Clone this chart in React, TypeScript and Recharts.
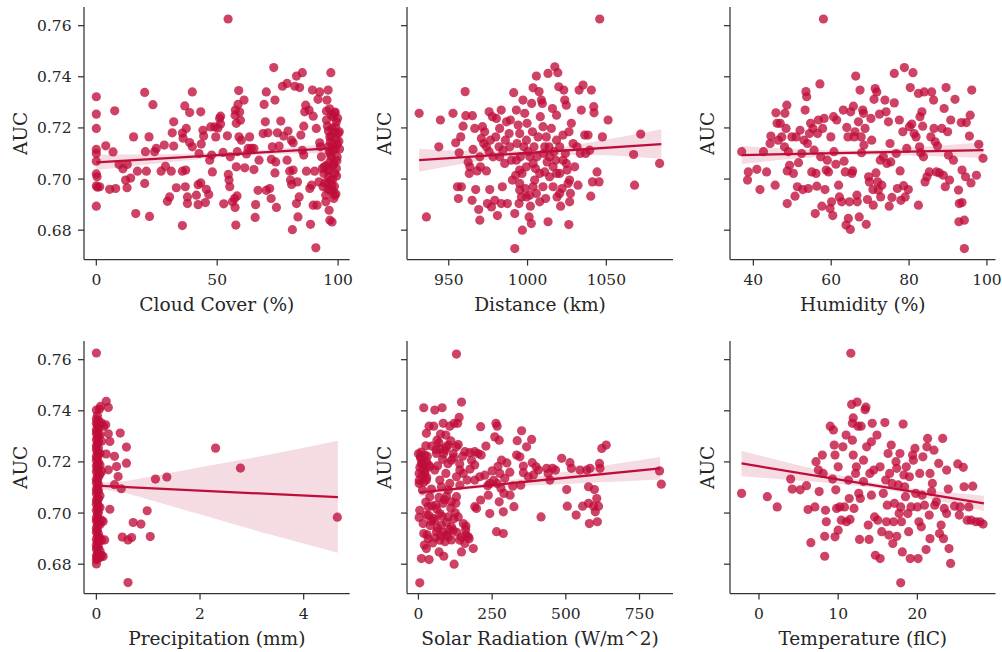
import { Area, ComposedChart, Line, Scatter, XAxis, YAxis } from "recharts";

const FONT = "DejaVu Serif, Liberation Serif, serif";
const RED = "#bf0d3a";
const INK = "#262626";
const FRAME = "#333333";

const AUC_TICKS = [0.68, 0.7, 0.72, 0.74, 0.76];
const AUC_DOMAIN: [number, number] = [0.6685, 0.7673];

type Pair = [number, number];
// [x, ci low, fitted value (endpoints only), ci high]
type BandRow = [number, number, number | null, number];

const cloudCover: Pair[] = [
  [0, 0.7322], [0, 0.7254], [0, 0.7198], [0, 0.7116], [0, 0.71], [0, 0.707], [0, 0.702], [0.3, 0.7009], [0, 0.6973], [0.5, 0.6968],
  [0, 0.6894], [1.4, 0.697], [3.9, 0.713], [6.9, 0.7106], [7.6, 0.7267], [5.5, 0.696], [8, 0.6963], [9.4, 0.7057], [11, 0.704], [12.8, 0.7057],
  [12.1, 0.6996], [12.7, 0.6966], [14.2, 0.7004], [15.4, 0.7165], [16.3, 0.6865], [17, 0.7031], [20, 0.7339], [20.3, 0.7107], [20.7, 0.7031], [20, 0.6983],
  [21.8, 0.7165], [22, 0.6854], [23.4, 0.7291], [24.1, 0.7107], [24.8, 0.712], [26.8, 0.7031], [28.1, 0.7133], [28.6, 0.705], [29.4, 0.6913], [30.3, 0.693],
  [31, 0.7031], [31.4, 0.7181], [32, 0.7224], [32, 0.7129], [33.1, 0.6966], [35.6, 0.6818], [35.6, 0.7031], [36.6, 0.7286], [35.6, 0.718], [37, 0.7035],
  [35.9, 0.716], [37.2, 0.7198], [36.8, 0.697], [37.7, 0.693], [37.7, 0.6904], [38.6, 0.726], [38.6, 0.7143], [39.7, 0.7126], [39.7, 0.7341], [41.4, 0.6937],
  [42.1, 0.6978], [42.1, 0.69], [42.5, 0.71], [43.2, 0.7263], [43.2, 0.6985], [43.4, 0.7137], [44.1, 0.7191], [44.4, 0.7168], [45.1, 0.6908], [45.5, 0.696],
  [46.5, 0.694], [46.9, 0.7074], [47.3, 0.7204], [47.7, 0.7094], [48, 0.7028], [49, 0.7204], [49.4, 0.7165], [50.3, 0.72], [51, 0.7237], [51.4, 0.7215],
  [51.4, 0.7246], [52.7, 0.6903], [52.4, 0.7104], [54.2, 0.7169], [54.5, 0.7626], [54.6, 0.7018], [54.9, 0.6996], [55.2, 0.697], [55.4, 0.7087], [56.3, 0.6911],
  [57.2, 0.6924], [57.4, 0.6889], [57.7, 0.682], [57.4, 0.725], [57.5, 0.727], [57.9, 0.7218], [57.9, 0.7048], [58.2, 0.6934], [58.3, 0.7107], [58.6, 0.7292],
  [58.9, 0.7346], [59, 0.7165], [59.3, 0.7262], [59.6, 0.723], [60, 0.7152], [61.1, 0.7309], [61.4, 0.7044], [62.1, 0.7098], [62.8, 0.712], [63.4, 0.7165],
  [64.1, 0.712], [65.2, 0.712], [65.2, 0.7037], [65.7, 0.685], [65.9, 0.69], [66.9, 0.6956], [67.3, 0.7074], [69, 0.7178], [69.4, 0.7292], [69.9, 0.7224],
  [70.3, 0.7341], [70.3, 0.6956], [71, 0.7181], [71.7, 0.6963], [72.3, 0.6924], [72.4, 0.7077], [72.8, 0.7126], [73.4, 0.7436], [73.9, 0.7309], [74.2, 0.7067],
  [74.5, 0.6889], [73.9, 0.7024], [74.9, 0.7181], [75.6, 0.7129], [76.3, 0.7227], [77, 0.7363], [77.5, 0.7168], [78.9, 0.7374], [78.9, 0.7074], [79.3, 0.7188],
  [80, 0.7031], [80.3, 0.6996], [80.7, 0.7152], [80.8, 0.6979], [81.1, 0.6802], [81.4, 0.7142], [81.4, 0.7035], [82.1, 0.7363], [82.8, 0.7403], [82.8, 0.6904],
  [83.2, 0.6989], [83.4, 0.6852], [83.9, 0.693], [84.1, 0.7358], [84.6, 0.7172], [85.2, 0.7416], [85.2, 0.7112], [85.8, 0.7207], [85.8, 0.7094], [86.2, 0.7263],
  [86.6, 0.7289], [86.9, 0.7031], [88, 0.727], [88.3, 0.6963], [88.6, 0.6823], [89, 0.6976], [89.4, 0.7348], [89.7, 0.7246], [89.7, 0.6898], [90.3, 0.7031],
  [90.8, 0.6731], [91, 0.7198], [91.3, 0.6898], [91.7, 0.7312], [92.1, 0.6989], [92.4, 0.7341], [92.4, 0.7142], [92.7, 0.7126], [93.1, 0.7087], [93.5, 0.7041],
  [94.1, 0.7022], [94.5, 0.6985], [94.9, 0.6911], [95.2, 0.7266], [95.4, 0.7309], [95.9, 0.7348], [95.9, 0.696], [96.3, 0.6878], [96.6, 0.6839], [97, 0.7416],
  [97.2, 0.725], [97.2, 0.7168], [97.5, 0.6832], [97.9, 0.7112], [98.3, 0.7061], [98.6, 0.7022], [99, 0.7204], [99.3, 0.7224], [99.6, 0.7135], [100, 0.7178],
  [95.2, 0.7231], [95.6, 0.7207], [96, 0.7188], [96.6, 0.7165], [96.8, 0.7146], [95.9, 0.7126], [96.3, 0.7107], [97.1, 0.7087], [96.6, 0.7067], [95.2, 0.7054],
  [95.6, 0.7035], [96.1, 0.7009], [97, 0.6996], [97.4, 0.6976], [97.9, 0.6954], [98.6, 0.6937], [98.2, 0.6924], [94.9, 0.6937], [93.8, 0.697], [94.3, 0.7048],
  [97.9, 0.7244], [98.6, 0.7257], [99.3, 0.7041], [99.6, 0.7087],
  [96.5, 0.7275], [98.8, 0.7262], [99.8, 0.7238], [97.5, 0.7199], [98.3, 0.7183], [99.2, 0.7155], [100.3, 0.7148], [97.6, 0.7132], [98.9, 0.7118], [96.9, 0.7098],
  [99.5, 0.7072], [98, 0.7055], [96.2, 0.7033], [99.4, 0.7012], [97.8, 0.6999], [95.8, 0.6985], [98.5, 0.6972], [96.8, 0.6955], [99.1, 0.6942], [100.5, 0.7185],
  [100.6, 0.7118],
];

const distance: Pair[] = [
  [931.2, 0.7257], [935.8, 0.6852], [943.7, 0.7126], [944.7, 0.7231], [952.7, 0.7257], [954.4, 0.7142], [955.5, 0.697], [956.1, 0.6924], [956.6, 0.7103], [957.6, 0.7165],
  [959.1, 0.7207], [960.4, 0.7342], [960.8, 0.7248], [958, 0.697], [962.3, 0.7067], [963, 0.7022], [963.4, 0.7048], [964.8, 0.6917], [965, 0.7248], [965.4, 0.7116],
  [966.5, 0.7198], [967.1, 0.6959], [968, 0.7032], [969, 0.6881], [969.7, 0.6839], [970.1, 0.7048], [970.7, 0.7159], [971.4, 0.7205], [972.2, 0.7139], [972.8, 0.7185],
  [973.9, 0.7032], [974.5, 0.6904], [975.6, 0.7263], [975.6, 0.7107], [976, 0.6959], [976.4, 0.7152], [977.1, 0.6891], [977.7, 0.7244], [978.1, 0.7087], [979.2, 0.6917],
  [979.8, 0.7165], [980.2, 0.7237], [980.9, 0.6857], [981.9, 0.7126], [982.3, 0.7198], [983.3, 0.727], [983.3, 0.6904], [984, 0.697], [985.5, 0.7061], [985.9, 0.7152],
  [986.6, 0.7224], [987.2, 0.6904], [988.3, 0.7178], [989.1, 0.7231], [989.7, 0.7074], [990.4, 0.6996], [991.2, 0.7338], [991.9, 0.6865], [991.9, 0.6728], [992.5, 0.7015],
  [992.9, 0.727], [993.3, 0.7139], [994, 0.7211], [994.6, 0.6904], [995, 0.6983], [995.5, 0.7087], [996.1, 0.693], [996.5, 0.7022], [996.7, 0.68], [997.1, 0.7309],
  [997.6, 0.7126], [998.2, 0.7257], [998.6, 0.6963], [999.3, 0.7048], [999.7, 0.7218], [1000.3, 0.7107], [1001, 0.6852], [1001.4, 0.6937], [1001.8, 0.6894], [1002.4, 0.6826],
  [1002.6, 0.7296], [1003.1, 0.7185], [1003.5, 0.7357], [1004.1, 0.7126], [1004.5, 0.6996], [1005, 0.7041], [1005.6, 0.7403], [1006, 0.7087], [1006.7, 0.7165], [1007.3, 0.7342],
  [1007.7, 0.6911], [1008.1, 0.7244], [1008.8, 0.7309], [1009.4, 0.7296], [1009.8, 0.7205], [1010.3, 0.71], [1010.9, 0.7028], [1011.5, 0.6924], [1012.4, 0.7067], [1013, 0.7413],
  [1013, 0.6833], [1013.6, 0.7126], [1014, 0.7009], [1015.1, 0.7198], [1015.8, 0.7276], [1016.2, 0.697], [1016.8, 0.7107], [1017.3, 0.7439], [1017.9, 0.7074], [1018.4, 0.725],
  [1018.7, 0.693], [1019.2, 0.7416], [1019.8, 0.7361], [1020.4, 0.7022], [1021, 0.6894], [1021.9, 0.6963], [1022.5, 0.7172], [1023, 0.7348], [1023.6, 0.7309], [1024, 0.71],
  [1024.6, 0.7289], [1025.1, 0.7035], [1025.7, 0.6983], [1026.2, 0.6822], [1026.3, 0.7185], [1026.7, 0.6911], [1027.2, 0.6944], [1027.8, 0.7218], [1028.9, 0.7139], [1029.9, 0.7048],
  [1031.4, 0.7126], [1032, 0.6976], [1032.7, 0.7348], [1033.5, 0.71], [1034.1, 0.727], [1035.2, 0.7368], [1036.3, 0.7172], [1036.9, 0.71], [1038.4, 0.7172], [1039.4, 0.7113],
  [1040.1, 0.6933], [1040.5, 0.7348], [1041.2, 0.6989], [1042, 0.7283], [1042.2, 0.7259], [1044.1, 0.7028], [1045.4, 0.6989], [1045.8, 0.7626], [1047.5, 0.7165], [1051.1, 0.7231],
  [1067.3, 0.7096], [1067.9, 0.6976], [1071.8, 0.7176], [1083.8, 0.7061],
  [992.9, 0.7074], [995, 0.7035], [999.3, 0.7152], [1001.4, 0.7087], [1003.5, 0.7061], [1007.7, 0.7022], [1010.9, 0.7126], [1014, 0.7087], [1016.2, 0.7048], [1018.4, 0.7152],
  [1020.4, 0.7126], [1022.5, 0.7074], [995, 0.7178], [988.7, 0.7126], [984.5, 0.7113], [982.3, 0.7087], [973.9, 0.7126], [969.7, 0.7087], [1003.5, 0.697], [999.3, 0.693],
  [995, 0.6957], [1005.6, 0.6944], [1011.9, 0.7165], [1018.4, 0.7022], [1024.6, 0.7061], [1026.7, 0.6996], [1020.4, 0.6944], [1009.8, 0.697],
];

const humidity: Pair[] = [
  [37, 0.7107], [38.5, 0.6996], [38.7, 0.7028], [40.9, 0.7038], [41.7, 0.6959], [42.6, 0.7107], [43.4, 0.7028], [44.3, 0.7139], [44.5, 0.7168], [45.6, 0.6976],
  [45.8, 0.7259], [46.1, 0.7218], [46.4, 0.7152], [46.9, 0.7218], [47.3, 0.7165], [48, 0.7126], [48.1, 0.7257], [48.4, 0.7198], [48.6, 0.7289], [48.7, 0.6904],
  [48.7, 0.7032], [49, 0.7107], [49.3, 0.7054], [49.9, 0.7165], [50.3, 0.7022], [50.7, 0.6933], [51, 0.7165], [51.3, 0.697], [51.6, 0.7064], [52, 0.7191],
  [52.4, 0.71], [52.7, 0.6959], [53, 0.7152], [53.3, 0.727], [53.5, 0.7342], [53.7, 0.7322], [53.9, 0.7139], [54.1, 0.6963], [54.4, 0.7178], [54.7, 0.7218],
  [55, 0.7028], [55.3, 0.7198], [55.6, 0.7113], [55.9, 0.6865], [56.1, 0.7022], [56.3, 0.6972], [56.5, 0.7178], [56.7, 0.7231], [57.1, 0.7372], [57.3, 0.7087],
  [57.6, 0.6894], [57.8, 0.7198], [58, 0.7626], [58.2, 0.7237], [58.4, 0.6959], [58.7, 0.7035], [59, 0.7074], [59.3, 0.7028], [59.7, 0.6885], [59.9, 0.7165],
  [60.1, 0.6911], [60.4, 0.6857], [60.6, 0.7244], [60.7, 0.7107], [61.2, 0.7058], [61.4, 0.7231], [61.9, 0.6976], [62.1, 0.693], [62.7, 0.6911], [63.1, 0.727],
  [63.3, 0.707], [63.6, 0.7028], [63.8, 0.682], [64, 0.7202], [64.3, 0.7165], [64.4, 0.6846], [64.7, 0.6911], [64.9, 0.6803], [65, 0.7263], [65.3, 0.7022],
  [65.5, 0.7032], [65.7, 0.7285], [65.9, 0.7165], [66.1, 0.7185], [66.3, 0.7403], [66.6, 0.6937], [66.7, 0.6911], [67, 0.7224], [67.2, 0.6852], [67.4, 0.7348],
  [67.7, 0.7165], [67.8, 0.7103], [68.1, 0.727], [68.3, 0.7257], [68.4, 0.7133], [68.7, 0.7198], [69, 0.6823], [69.3, 0.692], [69.6, 0.7009], [69.8, 0.6989],
  [70.2, 0.7237], [70.4, 0.7152], [70.7, 0.6959], [70.8, 0.6898], [71, 0.7312], [71.3, 0.7354], [71.5, 0.7024], [71.7, 0.7341], [71.9, 0.6989], [72.1, 0.6957],
  [72.4, 0.7254], [72.6, 0.7074], [72.7, 0.693], [73, 0.6976], [73.4, 0.7087], [73.8, 0.7309], [74.1, 0.7263], [74.3, 0.7061], [74.7, 0.7224], [74.9, 0.6894],
  [75.1, 0.7139], [75.3, 0.7067], [75.6, 0.6928], [76.2, 0.7413], [76.2, 0.7298], [76.7, 0.71], [77, 0.6963], [77.5, 0.7231], [77.7, 0.7032], [77.9, 0.6917],
  [78.4, 0.7185], [78.6, 0.6974], [78.8, 0.7436], [79, 0.693], [79.4, 0.712], [79.8, 0.6959], [80.1, 0.7205], [80.3, 0.7358], [80.7, 0.7215], [81, 0.7416],
  [81.3, 0.7178], [81.8, 0.7165], [82.4, 0.7335], [82.4, 0.6898], [82.7, 0.7126], [82.8, 0.7244], [83, 0.7103], [83.3, 0.7263], [83.5, 0.7207], [83.7, 0.7087],
  [83.9, 0.7341], [84.1, 0.6989], [84.6, 0.7009], [85.2, 0.7028], [85.6, 0.7165], [85.8, 0.7341], [86.3, 0.7309], [86.4, 0.7198], [86.7, 0.7146], [87, 0.7028],
  [87.3, 0.7129], [87.8, 0.7024], [88.4, 0.7198], [88.8, 0.7015], [89, 0.7276], [89.3, 0.697], [89.5, 0.7358], [89.9, 0.7185], [90.1, 0.7094], [90.4, 0.6996],
  [90.7, 0.7231], [91.4, 0.7074], [91.8, 0.7312], [92.7, 0.6957], [92.9, 0.6904], [92.8, 0.6833], [93.4, 0.7221], [93.6, 0.7035], [93.6, 0.6908], [94.2, 0.6839],
  [94.2, 0.6728], [94.5, 0.7009], [94.7, 0.7221], [95.5, 0.7168], [95.7, 0.725], [95.9, 0.6985], [96.1, 0.7348], [97.3, 0.7015], [97.9, 0.7136], [99, 0.7081],
];

const precipitation: Pair[] = [
  [0, 0.7403], [0, 0.7368], [0, 0.7351], [0, 0.7326], [0, 0.7311], [0, 0.7287], [0, 0.7262], [0, 0.7249], [0, 0.7221], [0, 0.7207],
  [0, 0.7184], [0, 0.7163], [0, 0.7131], [0, 0.7119], [0, 0.7092], [0, 0.7077], [0, 0.7049], [0, 0.7034], [0, 0.7011], [0, 0.6982],
  [0, 0.6969], [0, 0.6941], [0, 0.6925], [0, 0.6897], [0, 0.6874], [0, 0.6859], [0, 0.6832], [0, 0.6817], [0, 0.6801],
  [0.02, 0.7382], [0.02, 0.7343], [0.02, 0.7318], [0.02, 0.7296], [0.02, 0.7271], [0.02, 0.7238], [0.02, 0.7215], [0.02, 0.7192], [0.02, 0.7171], [0.02, 0.7148],
  [0.02, 0.7126], [0.02, 0.7104], [0.02, 0.7085], [0.02, 0.7061], [0.02, 0.7042], [0.02, 0.7019], [0.02, 0.6996], [0.02, 0.6974], [0.02, 0.6952], [0.02, 0.6933],
  [0.02, 0.6909], [0.02, 0.6886], [0.02, 0.6864], [0.02, 0.6843], [0.02, 0.6822],
  [0.04, 0.7362], [0.04, 0.7335], [0.04, 0.7302], [0.04, 0.7278], [0.04, 0.7254], [0.04, 0.7229], [0.04, 0.7198], [0.04, 0.7176], [0.04, 0.7141], [0.04, 0.7111],
  [0.04, 0.7087], [0.04, 0.7056], [0.04, 0.7026], [0.04, 0.7003], [0.04, 0.6978], [0.04, 0.6958], [0.04, 0.6917], [0.04, 0.6891], [0.04, 0.6868], [0.04, 0.6838],
  [0.07, 0.7345], [0.07, 0.7306], [0.07, 0.7233], [0.07, 0.7188], [0.07, 0.7152], [0.07, 0.7068], [0.07, 0.7022], [0.07, 0.6955], [0.07, 0.6902], [0.07, 0.6852],
  [0.07, 0.6826], [0.1, 0.7352], [0.1, 0.7281], [0.1, 0.7163], [0.1, 0.6972], [0.1, 0.6893], [0.1, 0.6836],
  [0, 0.7626], [0.19, 0.7437], [0.23, 0.7413], [0.06, 0.7407], [0.08, 0.7417], [0.18, 0.7345], [0.14, 0.7339], [0.23, 0.731], [0.26, 0.728], [0.19, 0.7231],
  [0.35, 0.7222], [0.46, 0.7313], [0.58, 0.7258], [0.39, 0.7182], [0.58, 0.7195], [0.23, 0.7169], [0.42, 0.7143], [0.35, 0.7111], [0.48, 0.7095], [0.26, 0.7015],
  [0.71, 0.6963], [0.86, 0.6957], [0.98, 0.7009], [0.5, 0.6906], [0.68, 0.6904], [0.61, 0.6895], [1.04, 0.6908], [0.61, 0.6728], [1.14, 0.7133], [1.36, 0.7141],
  [2.3, 0.7254], [2.78, 0.7176], [4.65, 0.6984], [0.13, 0.6967], [0.16, 0.6895], [0.13, 0.683],
];

const solarRadiation: Pair[] = [
  [129, 0.7622], [4.5, 0.6727], [18, 0.7412], [55.5, 0.7403], [80.4, 0.7412], [146, 0.7434], [138, 0.7374], [121, 0.7351], [133, 0.7351], [84, 0.7351],
  [36, 0.734], [52, 0.734], [106.5, 0.734], [27, 0.7312], [75, 0.7309], [93, 0.7305], [63, 0.7285], [25, 0.7263], [101, 0.7266], [72.5, 0.7253],
  [129, 0.7259], [6.8, 0.722], [21.5, 0.7227], [61, 0.7233], [89.5, 0.7246], [118, 0.7233], [157.5, 0.724], [10, 0.7194], [27, 0.7201], [81.6, 0.721],
  [112, 0.7207], [16, 0.7175], [38.5, 0.7181], [2.3, 0.7155], [21.5, 0.7155], [55.5, 0.7168], [93, 0.7155], [140.5, 0.7168], [2.3, 0.7116], [27, 0.7129],
  [72.5, 0.7129], [106.5, 0.7116], [129, 0.7142], [152, 0.7155], [13.6, 0.709], [44, 0.7094], [78, 0.7103], [101, 0.709], [140.5, 0.7109], [38.5, 0.7064],
  [70, 0.7061], [95, 0.7066], [129, 0.7064], [4.5, 0.7011], [33, 0.7025], [59, 0.7031], [84, 0.7038], [112, 0.7044], [127, 0.7038], [2.3, 0.6983],
  [27, 0.6992], [50, 0.6979], [72.5, 0.6998], [101, 0.6985], [135, 0.6985], [16, 0.6959], [44, 0.6968], [78, 0.6953], [112, 0.6946], [152, 0.6959],
  [18, 0.692], [61, 0.6927], [95, 0.6914], [118, 0.6933], [161, 0.6914], [33, 0.69], [72.5, 0.6894], [101, 0.6907], [140.5, 0.6894], [172, 0.69],
  [27, 0.6861], [70, 0.6848], [186, 0.6861], [10, 0.6822], [36, 0.6818], [86, 0.6831], [121, 0.68], [146, 0.6848], [157.5, 0.6881], [169, 0.6907],
  [161, 0.6949], [197, 0.7018], [191, 0.7025], [211, 0.7051], [202, 0.7233], [213, 0.7227], [191, 0.724], [229, 0.7262], [211, 0.7338], [174, 0.7236],
  [180, 0.7207], [191, 0.7188], [165, 0.7129], [191, 0.7129], [208, 0.7142], [242, 0.6998], [242, 0.7116], [237, 0.707], [259, 0.7298], [263, 0.7351],
  [267, 0.734], [274, 0.7285], [265, 0.6927], [288, 0.692], [267, 0.7116], [274, 0.7044], [288, 0.7005], [282, 0.7207], [276, 0.7155], [290, 0.7077],
  [293, 0.7136], [310, 0.716], [311, 0.707], [324, 0.7025], [333, 0.7227], [335, 0.7283], [344, 0.722], [347, 0.7109], [350, 0.7322], [356, 0.7184],
  [356, 0.7158], [367, 0.7259], [373, 0.7142], [384, 0.7288], [386, 0.7197], [390, 0.7149], [399, 0.7181], [407, 0.7168], [416, 0.6985], [435, 0.7175],
  [440, 0.7155], [446, 0.7129], [455, 0.7175], [465, 0.7168], [486, 0.7214], [503, 0.7092], [505, 0.7027], [514, 0.7197], [519, 0.7175], [535, 0.6992],
  [548, 0.7168], [557, 0.7027], [571, 0.7168], [577, 0.7103], [577, 0.7038], [580, 0.6959], [582, 0.7175], [594, 0.7027], [597, 0.7092], [600, 0.7005],
  [605, 0.7057], [607, 0.6966], [611, 0.7027], [614, 0.7194], [616, 0.7175], [622, 0.7253], [637, 0.7266], [818, 0.7165], [824, 0.7113],
  [0, 0.7232], [8, 0.7213], [15, 0.7195], [5, 0.7178], [22, 0.7165], [12, 0.7148], [28, 0.7139], [3, 0.7128], [18, 0.7121], [9, 0.7238],
  [35, 0.7188], [30, 0.7222], [25, 0.7043], [45, 0.7028], [62, 0.7016], [88, 0.7052], [110, 0.7019], [125, 0.7001], [35, 0.6991], [55, 0.6972],
  [80, 0.6988], [95, 0.6964], [120, 0.6978], [40, 0.6951], [65, 0.6942], [85, 0.6925], [105, 0.6935], [30, 0.6915], [58, 0.6903], [75, 0.6912],
  [130, 0.6925], [48, 0.6883], [90, 0.6888], [112, 0.6895], [20, 0.6875], [145, 0.6905], [160, 0.6935], [45, 0.7262], [70, 0.7275], [95, 0.7258],
  [110, 0.7282], [135, 0.7268], [60, 0.7248], [85, 0.7232], [150, 0.7222], [120, 0.7216], [100, 0.7193], [65, 0.7185], [140, 0.7192], [175, 0.7172],
  [225, 0.7148], [250, 0.7165], [270, 0.7183], [300, 0.7196], [235, 0.7107], [255, 0.7128], [280, 0.7097], [320, 0.7105],
];

const temperature: Pair[] = [
  [11.6, 0.7625], [17.9, 0.6727], [-2.2, 0.7077], [1.05, 0.7064], [2.3, 0.7024], [4, 0.7133], [4.2, 0.7094], [5.2, 0.7091], [6, 0.7107], [6.2, 0.7014],
  [6.55, 0.6884], [7.06, 0.7024], [7.2, 0.7201], [7.5, 0.7168], [7.6, 0.7084], [8, 0.7227], [8.1, 0.7155], [8.3, 0.6831], [8.3, 0.6909], [8.4, 0.7011],
  [8.5, 0.6966], [9, 0.734], [9.3, 0.7133], [9.4, 0.7325], [9.5, 0.7266], [9.6, 0.7227], [9.6, 0.6907], [9.7, 0.7091], [9.8, 0.7018], [10, 0.7181],
  [10, 0.6933], [10.2, 0.7024], [10.4, 0.6972], [10.6, 0.7259], [10.8, 0.7024], [11, 0.7305], [11.05, 0.6966], [11.3, 0.7129], [11.4, 0.7057], [11.5, 0.6975],
  [11.7, 0.7425], [11.8, 0.7351], [11.8, 0.7285], [11.9, 0.7227], [11.9, 0.7372], [12, 0.7018], [12.2, 0.7155], [12.3, 0.7181], [12.4, 0.7434], [12.5, 0.734],
  [12.6, 0.7077], [12.7, 0.6897], [12.8, 0.7057], [12.9, 0.734], [13.2, 0.7207], [13.2, 0.7123], [13.4, 0.7404], [13.5, 0.7414], [13.6, 0.7259], [13.8, 0.6953],
  [13.9, 0.6897], [14, 0.7155], [14.2, 0.707], [14.2, 0.7279], [14.3, 0.7351], [14.5, 0.7168], [14.6, 0.6985], [14.7, 0.6835], [14.9, 0.7305], [15, 0.6972],
  [15.3, 0.6822], [15.3, 0.7181], [15.5, 0.6927], [15.7, 0.7077], [15.9, 0.7354], [16, 0.7129], [16.1, 0.6966], [16.2, 0.7031], [16.3, 0.7233], [16.4, 0.6914],
  [16.5, 0.7155], [16.7, 0.7266], [16.8, 0.7116], [16.9, 0.6881], [17, 0.6966], [17.1, 0.7038], [17.3, 0.7201], [17.4, 0.6909], [17.4, 0.7175], [17.6, 0.711],
  [17.7, 0.6998], [17.8, 0.7233], [17.9, 0.7024], [18, 0.6966], [18.1, 0.6848], [18.2, 0.7348], [18.3, 0.7149], [18.4, 0.7103], [18.5, 0.7064], [18.6, 0.7181],
  [18.8, 0.6998], [18.9, 0.6927], [19, 0.7142], [19.1, 0.6822], [19.2, 0.7024], [19.4, 0.7227], [19.5, 0.7207], [19.7, 0.7253], [19.8, 0.7077], [20, 0.7024],
  [20.1, 0.6822], [20.2, 0.6966], [20.3, 0.7155], [20.5, 0.6946], [20.6, 0.707], [20.7, 0.722], [20.9, 0.7031], [21.1, 0.6857], [21.2, 0.7259], [21.3, 0.7292],
  [21.5, 0.6992], [21.6, 0.69], [21.6, 0.7155], [21.8, 0.7084], [21.9, 0.7116], [22.1, 0.7246], [22.2, 0.7031], [22.4, 0.7044], [22.7, 0.7194], [22.8, 0.692],
  [23, 0.6953], [23.2, 0.7292], [23.3, 0.69], [23.4, 0.7018], [23.7, 0.6998], [23.7, 0.7168], [23.9, 0.7094], [24, 0.6861], [24.2, 0.6803], [24.7, 0.7027],
  [25.1, 0.7192], [25.3, 0.6992], [25.4, 0.7024], [25.8, 0.7179], [25.9, 0.7103], [26.3, 0.6972], [26.5, 0.7024], [26.8, 0.6972], [27, 0.7105], [27.4, 0.6966],
  [27.9, 0.6966], [28.3, 0.6957],
];

const cloudCoverBand: BandRow[] = [
  [0, 0.7035, 0.7065, 0.7095], [25, 0.7061, null, 0.7097], [60, 0.7091, null, 0.7107], [80, 0.7099, null, 0.7123], [100, 0.7102, 0.7122, 0.7142],
];
const distanceBand: BandRow[] = [
  [931.2, 0.7029, 0.7074, 0.7119], [960, 0.7061, null, 0.7111], [1005, 0.7094, null, 0.7114], [1040, 0.7094, null, 0.7144], [1084.9, 0.7079, 0.7137, 0.7195],
];
const humidityBand: BandRow[] = [
  [37, 0.7059, 0.7094, 0.7129], [52, 0.7081, null, 0.7117], [67, 0.7094, null, 0.7112], [83, 0.7091, null, 0.7125], [99.1, 0.7082, 0.7113, 0.7144],
];
const precipitationBand: BandRow[] = [
  [0, 0.7095, 0.7107, 0.7119], [0.5, 0.708, null, 0.7124], [1, 0.7053, null, 0.7141], [2, 0.6995, null, 0.7179], [3.3, 0.6919, null, 0.7227], [4.66, 0.6845, 0.7062, 0.7283],
];
const solarRadiationBand: BandRow[] = [
  [4, 0.7064, 0.7081, 0.7098], [150, 0.709, null, 0.7106], [300, 0.7103, null, 0.7127], [500, 0.7114, null, 0.7162], [820, 0.7131, 0.7175, 0.7219],
];
const temperatureBand: BandRow[] = [
  [-2.2, 0.7144, 0.7194, 0.7244], [5, 0.7127, null, 0.7187], [10, 0.7115, null, 0.7149], [16, 0.7092, null, 0.711], [22, 0.7053, null, 0.7087], [28.4, 0.7008, 0.7038, 0.7068],
];

type PanelSpec = {
  points: Pair[];
  band: BandRow[];
  xLabel: string;
  xDomain: [number, number];
  xTicks: number[];
  left: number;
  top: number;
  right: number;
  bottom: number;
  yLabels: boolean;
};

const COLS = [
  [84.3, 350],
  [407.3, 673.3],
  [730, 995.5],
];
const ROWS = [
  [6.7, 259.3],
  [341.2, 593.8],
];

const panels: PanelSpec[] = [
  { points: cloudCover, band: cloudCoverBand, xLabel: "Cloud Cover (%)", xDomain: [-5.1, 104.8], xTicks: [0, 50, 100], left: COLS[0][0], right: COLS[0][1], top: ROWS[0][0], bottom: ROWS[0][1], yLabels: true },
  { points: distance, band: distanceBand, xLabel: "Distance (km)", xDomain: [923.5, 1092.3], xTicks: [950, 1000, 1050], left: COLS[1][0], right: COLS[1][1], top: ROWS[0][0], bottom: ROWS[0][1], yLabels: false },
  { points: humidity, band: humidityBand, xLabel: "Humidity (%)", xDomain: [34, 102.2], xTicks: [40, 60, 80, 100], left: COLS[2][0], right: COLS[2][1], top: ROWS[0][0], bottom: ROWS[0][1], yLabels: false },
  { points: precipitation, band: precipitationBand, xLabel: "Precipitation (mm)", xDomain: [-0.239, 4.888], xTicks: [0, 2, 4], left: COLS[0][0], right: COLS[0][1], top: ROWS[1][0], bottom: ROWS[1][1], yLabels: true },
  { points: solarRadiation, band: solarRadiationBand, xLabel: "Solar Radiation (W/m^2)", xDomain: [-38.8, 863.6], xTicks: [0, 250, 500, 750], left: COLS[1][0], right: COLS[1][1], top: ROWS[1][0], bottom: ROWS[1][1], yLabels: false },
  { points: temperature, band: temperatureBand, xLabel: "Temperature (ﬂC)", xDomain: [-3.66, 29.87], xTicks: [0, 10, 20], left: COLS[2][0], right: COLS[2][1], top: ROWS[1][0], bottom: ROWS[1][1], yLabels: false },
];

const TICK_SIZE = 15.5;
const LABEL_SIZE = 18.6;
const tickStyle = { fill: INK, fontSize: TICK_SIZE, fontFamily: FONT };
const lineStyle = { stroke: FRAME, strokeWidth: 1.25 };

function Dot(props: any) {
  return <circle cx={props.cx} cy={props.cy} r={4.6} fill={RED} fillOpacity={0.78} />;
}

function Panel({ spec }: { spec: PanelSpec }) {
  const { points, band, xLabel, xDomain, xTicks, left, top, right, bottom, yLabels } = spec;
  const data = band.map(([x, lo, fit, hi]) => ({ x, ci: [lo, hi], fit }));
  const scatter = points.map(([x, y]) => ({ x, y }));
  const yLabelGap = yLabels ? 56.8 : 16;

  return (
    <div style={{ position: "absolute", left: left - 84, top: top - 8 }}>
      <ComposedChart
        width={right - left + 92}
        height={bottom - top + 78}
        data={data}
        margin={{ top: 8, right: 8, bottom: 0, left: 0 }}
      >
        <XAxis
          type="number"
          dataKey="x"
          domain={xDomain}
          ticks={xTicks}
          allowDataOverflow
          height={70}
          tickSize={6}
          tickMargin={8.5}
          tick={tickStyle}
          axisLine={lineStyle}
          tickLine={lineStyle}
          label={{
            content: (p: any) => (
              <text x={p.viewBox.x + p.viewBox.width / 2} y={p.viewBox.y + 51.5} textAnchor="middle" fontSize={LABEL_SIZE} fontFamily={FONT} fill={INK}>
                {xLabel}
              </text>
            ),
          }}
        />
        <YAxis
          type="number"
          dataKey="y"
          domain={AUC_DOMAIN}
          ticks={AUC_TICKS}
          allowDataOverflow
          width={84}
          tickSize={6}
          tickMargin={6.5}
          tick={tickStyle}
          tickFormatter={(v: number) => (yLabels ? v.toFixed(2) : "")}
          axisLine={lineStyle}
          tickLine={lineStyle}
          label={{
            content: (p: any) => {
              const bx = p.viewBox.x + p.viewBox.width - yLabelGap;
              const cy = p.viewBox.y + p.viewBox.height / 2;
              return (
                <text x={bx} y={cy} transform={`rotate(-90 ${bx} ${cy})`} textAnchor="middle" fontSize={LABEL_SIZE} fontFamily={FONT} fill={INK}>
                  AUC
                </text>
              );
            },
          }}
        />
        <XAxis xAxisId="top" orientation="top" type="number" domain={xDomain} allowDataOverflow height={0} tick={false} tickLine={false} axisLine={lineStyle} />
        <YAxis yAxisId="right" orientation="right" type="number" domain={AUC_DOMAIN} allowDataOverflow width={0} tick={false} tickLine={false} axisLine={lineStyle} />
        <Scatter data={scatter} shape={Dot} isAnimationActive={false} />
        <Area type="monotone" dataKey="ci" stroke="none" fill={RED} fillOpacity={0.15} isAnimationActive={false} />
        <Line type="linear" dataKey="fit" stroke={RED} strokeWidth={2.3} dot={false} connectNulls isAnimationActive={false} />
      </ComposedChart>
    </div>
  );
}

export default function App() {
  return (
    <div style={{ position: "absolute", left: 0, top: 0, width: 1002, height: 652, background: "#fff" }}>
      {panels.map((spec) => (
        <Panel key={spec.xLabel} spec={spec} />
      ))}
    </div>
  );
}
